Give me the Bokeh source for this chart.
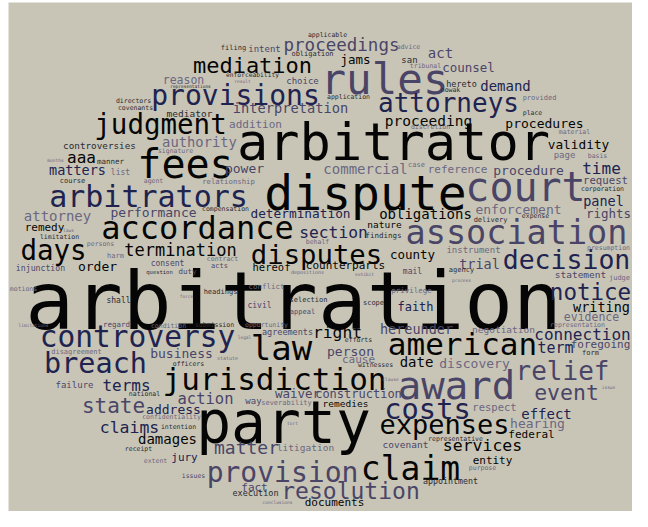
from bokeh.plotting import figure
from bokeh.models import ColumnDataSource, Range1d
from bokeh.embed import file_html
from bokeh.resources import INLINE
from bokeh.core.properties import value

# words and their weights (rendered font size in px)
words = [
    "arbitration", "arbitrator", "dispute", "party", "rules", "court", "fees", "award", "law", "association",
    "claim", "accordance", "american", "jurisdiction", "arbitrators", "controversy", "costs", "breach", "provisions", "provision",
    "judgment", "days", "disputes", "expenses", "decision", "attorneys", "relief", "notice", "resolution", "mediation",
    "event", "state", "matter", "proceedings", "termination", "connection", "claims", "services", "section", "right",
    "aaa", "terms", "time", "action", "term", "proceeding", "commercial", "obligations", "effect", "damages",
    "demand", "act", "date", "attorney", "authority", "interpretation", "matters", "panel", "trial", "writing",
    "hereunder", "performance", "order", "business", "address", "power", "procedures", "procedure", "enforcement", "discovery",
    "hearing", "person", "determination", "validity", "counsel", "jams", "rights", "county", "waiver", "construction",
    "faith", "evidence", "reason", "addition", "reference", "foregoing", "federal", "entity", "counterparts", "documents",
    "remedy", "jury", "fact", "cause", "request", "respect", "hereof", "mediator", "statement", "negotiation",
    "litigation", "covenant", "remedies", "nature", "controversies", "failure", "choice", "intent", "san", "page",
    "way", "instrument", "hereto", "agreements", "execution", "appointment", "injunction", "consent", "shall", "list",
    "civil", "mail", "manner", "duty", "regard", "findings", "conflict", "privilege", "relationship", "course",
    "harm", "acts", "headings", "disagreement", "severability", "filing", "obligation", "case", "provided", "delivery",
    "agency", "judge", "form", "selection", "scope", "appeal", "directors", "covenants", "signature", "agent",
    "compensation", "limitation", "persons", "contract", "motions", "condition", "submission", "officers", "national", "confidentiality",
    "intention", "receipt", "extent", "issues", "applicable", "enforceability", "application", "advice", "tribunal", "discretion",
    "nowak", "place", "material", "basis", "corporation", "expense", "presumption", "representation", "opportunity", "behalf",
    "efforts", "witnesses", "representative", "purpose", "statute", "depositions", "question", "representations", "months", "laws",
    "force", "limitations", "result", "exhibit", "legal", "clause", "tort", "conclusions", "issue", "process",
]
font_px = [
    81, 52, 48, 58, 42.5, 40, 40, 39, 34, 33.5,
    33, 32, 31, 31, 30, 29.5, 28.7, 28.5, 28, 28,
    27.5, 27.5, 27.3, 27, 26.5, 26, 26, 22.5, 23, 22,
    21.5, 21, 18, 17.5, 17, 16, 16.5, 16.5, 16.3, 16.3,
    16, 16, 16, 15.5, 15, 14.5, 14, 14, 14, 14,
    14, 14, 14, 14, 13.8, 13.7, 13.5, 13.5, 13.5, 13.5,
    13.5, 13, 13, 13, 13, 13, 13, 13, 13, 13,
    13, 13, 12.8, 12.8, 12.5, 12.5, 12.5, 12.5, 12.5, 12,
    12, 11.5, 11.5, 11, 11, 11, 11, 11, 11, 11,
    11, 11, 11, 11, 10.7, 10.5, 10.5, 9.5, 9.5, 9.5,
    9.5, 9.5, 9.5, 9.5, 9.3, 9, 9, 9, 9, 9,
    9, 9, 8.5, 8.5, 8.5, 8.3, 8.2, 8, 8, 8,
    8, 8, 7.5, 7.5, 7.5, 7.5, 7.5, 7.5, 7.3, 7,
    7, 7, 7, 7, 7, 7, 7, 7, 7, 7,
    7, 7, 7, 7, 7, 7, 6.5, 6.5, 6.5, 6.5,
    6.5, 6.5, 6.5, 6.5, 6.5, 6.5, 6.5, 6.5, 6.5, 6.5,
    6.5, 6.5, 6.5, 6.5, 6.5, 6.3, 6.5, 6.5, 6.5, 6.5,
    6.5, 6.5, 6.5, 6.5, 6.5, 6.5, 6.5, 6.5, 6.5, 6.5,
    6.5, 6.5, 6.5, 6.5, 5, 5, 5.5, 4.5, 4.5, 4.5,
    4.5, 4.5, 4.5, 4.5, 4.5, 4.5, 4.5, 4.5, 4.5, 4.5,
]

# layout of the cloud (word centre x, baseline y, in picture pixels)
x_pos = [
    293, 393, 365, 283, 384, 525, 185, 456, 281, 516,
    410, 197, 462, 274, 148, 137, 427, 95, 235, 282,
    160, 53, 316, 444, 566, 448, 562, 590, 350, 252,
    566, 113, 246, 341, 180, 582, 129, 482, 333, 337,
    81, 126, 601, 205, 555, 428, 365, 425, 546, 167,
    505, 440, 416, 57, 199, 290, 77, 603, 479, 601,
    416, 153, 97, 181, 173, 244, 544, 528, 518, 474,
    537, 350, 300, 578, 468, 355, 608, 412, 297, 358,
    415, 591, 183, 255, 457, 600, 531, 492, 345, 334,
    44, 184, 254, 358, 605, 494, 271, 189, 580, 503,
    305, 405, 345, 384, 99, 74, 302, 264, 409, 564,
    253, 473, 461, 287, 255, 450, 40, 167, 118, 120,
    259, 412, 110, 187, 116, 383, 266, 411, 228, 72,
    115, 219, 220, 76, 286, 233, 312, 416, 539, 490,
    461, 619, 590, 308, 373, 302, 133, 135, 175, 153,
    225, 59, 100, 222, 23, 168, 214, 188, 144, 171,
    178, 138, 155, 193, 327, 252, 348, 408, 425, 430,
    450, 532, 574, 597, 602, 535, 608, 577, 266, 317,
    358, 375, 455, 482, 227, 307, 159, 190, 55, 68,
    186, 33, 242, 364, 244, 390, 292, 277, 608, 461,
]
y_pos = [
    325, 157, 207, 440, 92, 198, 175, 397, 358, 242,
    478, 237, 353, 388, 205, 345, 417, 372, 103, 480,
    132, 258, 262, 432, 267, 110, 378, 298, 497, 72,
    398, 412, 452, 50, 255, 339, 432, 450, 237, 337,
    162, 390, 173, 403, 352, 125, 173, 218, 418, 443,
    90, 57, 366, 220, 146, 112, 174, 205, 268, 311,
    333, 216, 270, 357, 413, 172, 127, 174, 213, 367,
    427, 355, 217, 148, 71, 63, 217, 258, 397, 397,
    310, 320, 83, 127, 172, 347, 437, 463, 268, 505,
    230, 460, 490, 362, 183, 410, 270, 116, 277, 332,
    450, 447, 406, 227, 148, 387, 83, 51, 62, 157,
    403, 252, 86, 334, 495, 483, 270, 265, 302, 174,
    307, 273, 163, 273, 326, 237, 288, 292, 183, 183,
    258, 268, 294, 354, 405, 50, 56, 167, 100, 222,
    272, 280, 355, 302, 305, 314, 102, 109, 152, 182,
    210, 238, 245, 260, 290, 327, 326, 365, 395, 418,
    428, 450, 462, 477, 36, 76, 98, 48, 67, 128,
    91, 114, 133, 157, 190, 217, 249, 326, 326, 243,
    341, 366, 440, 469, 359, 273, 273, 87, 161, 231,
    297, 326, 82, 275, 338, 380, 424, 503, 388, 281,
]
tone = (
    "KKKKSSKSKS"
    "KKKKNNNNNS"
    "KKKKNNSNSK"
    "SSSSKNNKNK"
    "KNNSNKLKNK"
    "NSKLLSNNSK"
    "SSKSNSKSLL"
    "LSNKSKSKSS"
    "NLLLLSKKKK"
    "KNSLSLKDSL"
    "LSKKDSSSDL"
    "SLDSDDSSDL"
    "SSDSSDLLLD"
    "LSDLLDDLLD"
    "DLDDDSDDLL"
    "DDLLLLDDDL"
    "DDLSDDDLLL"
    "DDLLDDLLLL"
    "DDDLLLDDLL"
    "LLLLLLLLLL"
)
palette = {"K": "#050505", "D": "#2a2a30", "N": "#20234f", "S": "#4a4567", "L": "#6b6781"}
background = "#c8c5b7"

# the renderer sets glyphs a little below the requested baseline; compensate
y_draw = [y - 0.3 * s for y, s in zip(y_pos, font_px)]

src = ColumnDataSource(dict(
    x=x_pos, y=y_draw, text=words,
    size=[f"{s}px" for s in font_px],
    color=[palette[t] for t in tone],
))

p = figure(width=632, height=511, x_range=Range1d(8, 632), y_range=Range1d(511, 2),
           output_backend="svg", toolbar_location=None,
           x_axis_location=None, y_axis_location=None)
p.min_border_left = 8
p.min_border_top = 2
p.min_border_right = 0
p.min_border_bottom = 0
p.grid.visible = False
p.outline_line_color = None
p.background_fill_color = background
p.border_fill_color = "white"

p.text(x="x", y="y", text="text", text_font_size="size", text_color="color",
       text_align="center", text_baseline="alphabetic",
       text_font=value("DejaVu Sans Mono"), source=src)

open("out.html", "w").write(file_html(p, INLINE))
